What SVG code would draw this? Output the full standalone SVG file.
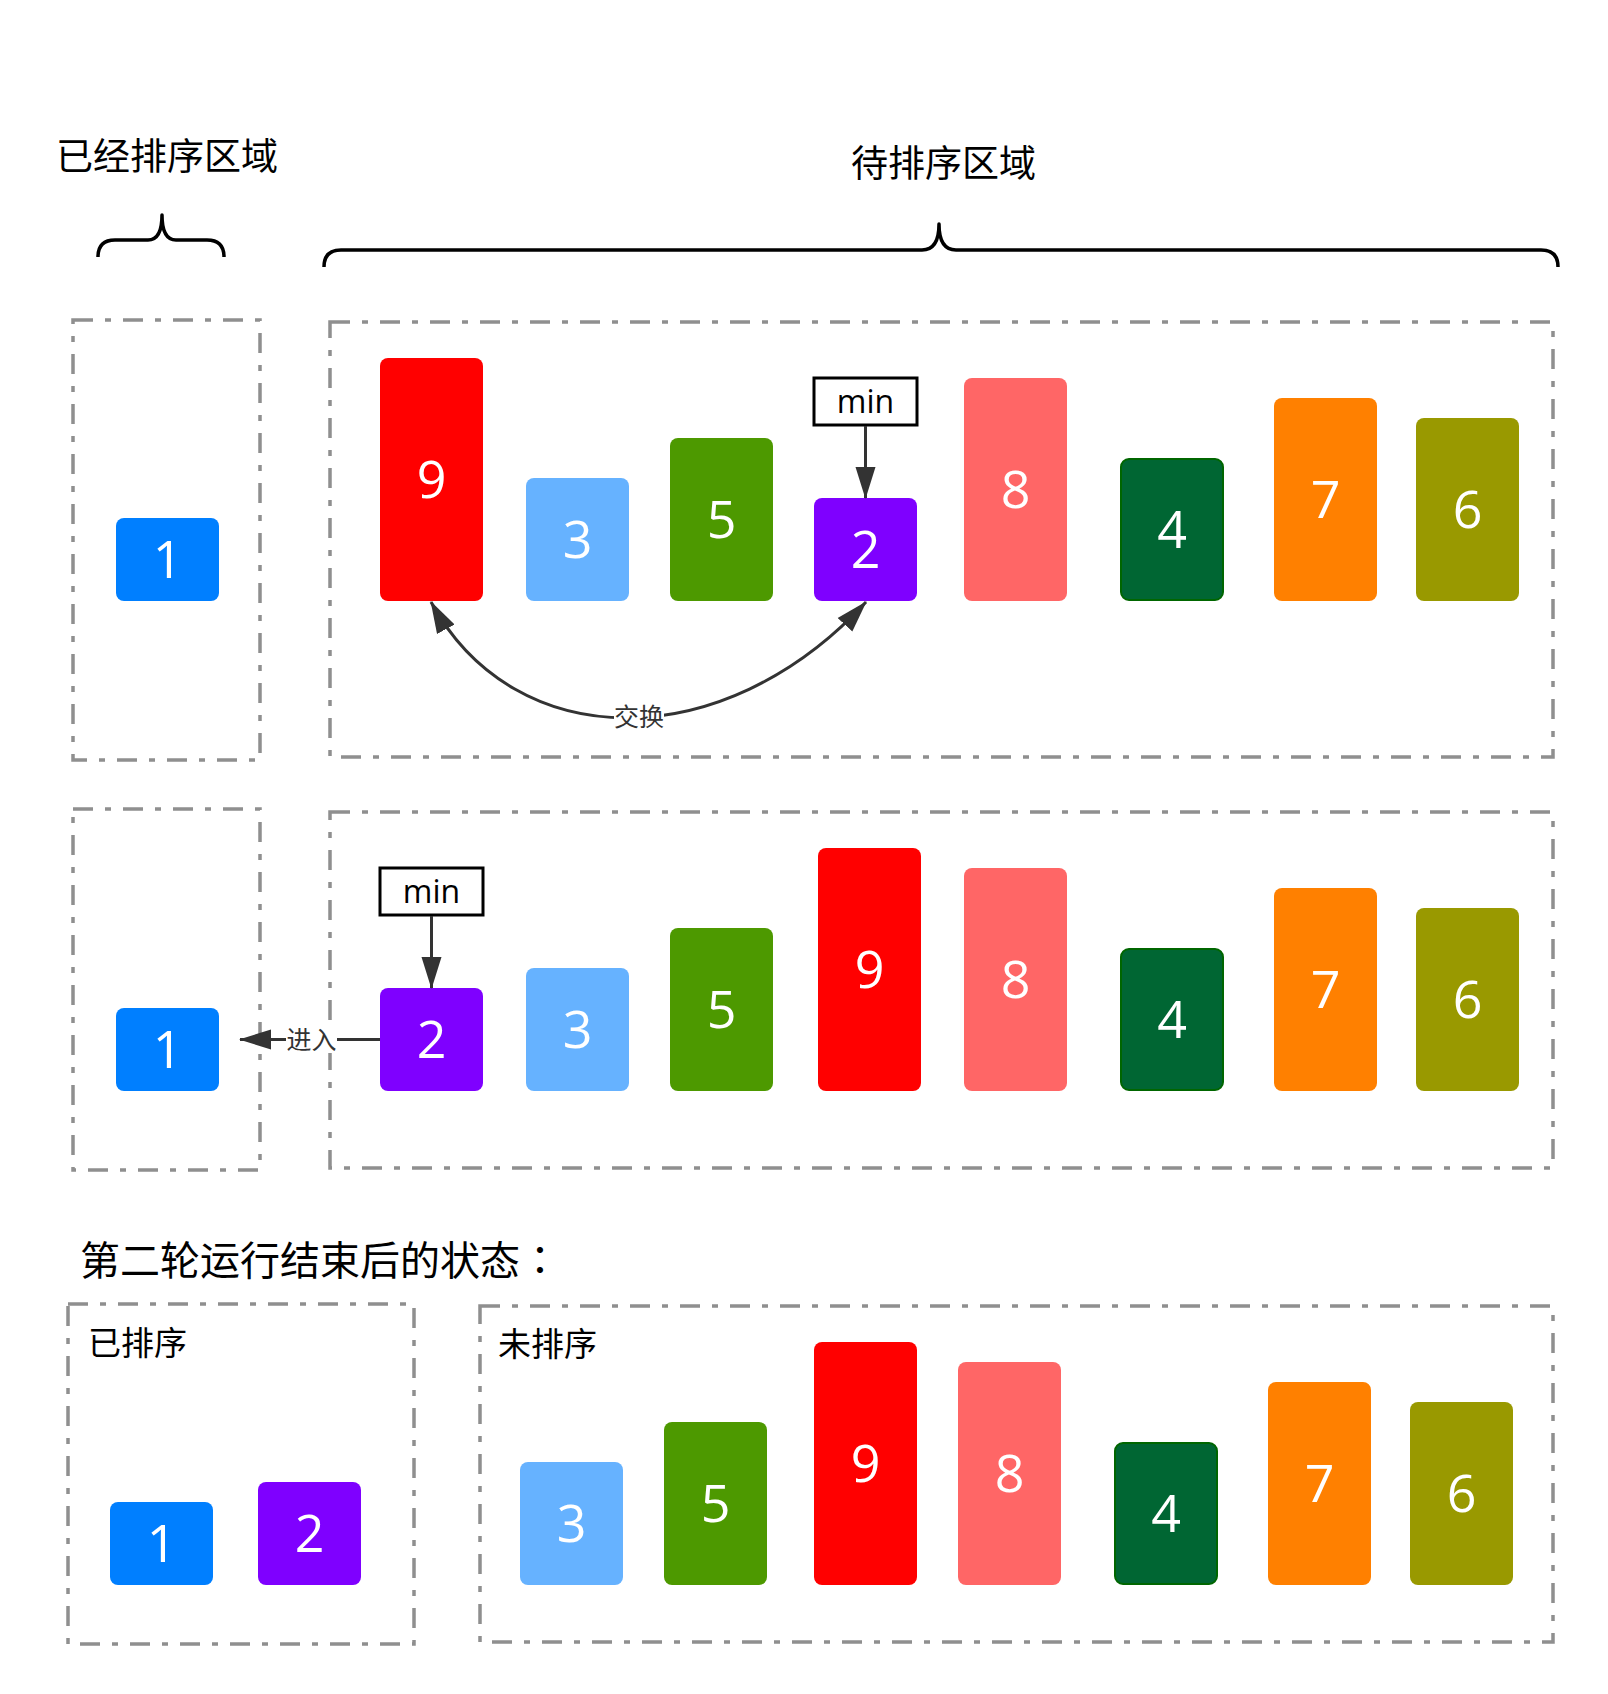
<svg xmlns="http://www.w3.org/2000/svg" width="1608" height="1694" viewBox="0 0 1608 1694">
<style>
.zone{fill:none;stroke:#8f8f8f;stroke-width:3.5;stroke-dasharray:20 12 6 12}
.brace{fill:none;stroke:#000;stroke-width:3.5;stroke-linejoin:round}
.num{font-family:"Open Sans","Noto Sans",sans-serif;font-size:52px;fill:#fff;text-anchor:middle}
.title{font-family:"Noto Sans CJK SC","Noto Sans CJK JP",sans-serif;fill:#000}
.lbl{font-family:"Noto Sans CJK SC","Noto Sans CJK JP",sans-serif;font-size:25px;fill:#333;text-anchor:middle}
.min rect{fill:#fff;stroke:#000;stroke-width:3}
.min text{font-family:"Open Sans","Noto Sans",sans-serif;font-size:32px;fill:#000;text-anchor:middle}
.edge{fill:none;stroke:#333;stroke-width:3}
.c1{fill:#007FFF}.c2{fill:#7F00FF}.c3{fill:#66B2FF}.c4{fill:#006633;stroke:#006600;stroke-width:2}
.c5{fill:#4D9900}.c6{fill:#999900}.c7{fill:#FF8000}.c8{fill:#FF6666}.c9{fill:#FF0000}
</style>
<defs>
<marker id="arr" markerUnits="userSpaceOnUse" viewBox="0 0 32 22" markerWidth="32" markerHeight="22" refX="31" refY="11" orient="auto-start-reverse">
<path d="M0,1 L32,11 L0,21 Z" fill="#333"/>
</marker>
</defs>
<rect width="1608" height="1694" fill="#fff"/>

<!-- titles -->
<text class="title" x="56" y="170" font-size="37">已经排序区域</text>
<text class="title" x="851" y="177" font-size="37">待排序区域</text>
<path class="brace" d="M98 257 Q98 240 115 240 L148 240 Q162 240 162 215 Q162 240 176 240 L207 240 Q224 240 224 257"/>
<path class="brace" d="M324 267 Q324 250 341 250 L922 250 Q939 250 939 224 Q939 250 956 250 L1541 250 Q1558 250 1558 267"/>

<!-- zones -->
<g id="zones">
<rect class="zone" x="73" y="320" width="187" height="440"/>
<rect class="zone" x="330" y="322" width="1223" height="435"/>
<rect class="zone" x="73" y="809" width="187" height="361"/>
<rect class="zone" x="330" y="812" width="1223" height="356"/>
<rect class="zone" x="68" y="1304" width="346" height="340"/>
<rect class="zone" x="480" y="1306" width="1073" height="336"/>
</g>

<!-- row 1 -->
<g id="r1-n1"><rect class="c1" x="116" y="518" width="103" height="83" rx="8"/><text class="num" x="167.5" y="578">1</text></g>
<g id="r1-n9"><rect class="c9" x="380" y="358" width="103" height="243" rx="8"/><text class="num" x="431.5" y="498">9</text></g>
<g id="r1-n3"><rect class="c3" x="526" y="478" width="103" height="123" rx="8"/><text class="num" x="577.5" y="558">3</text></g>
<g id="r1-n5"><rect class="c5" x="670" y="438" width="103" height="163" rx="8"/><text class="num" x="721.5" y="538">5</text></g>
<g id="r1-n2"><rect class="c2" x="814" y="498" width="103" height="103" rx="8"/><text class="num" x="865.5" y="568">2</text></g>
<g id="r1-n8"><rect class="c8" x="964" y="378" width="103" height="223" rx="8"/><text class="num" x="1015.5" y="508">8</text></g>
<g id="r1-n4"><rect class="c4" x="1121" y="459" width="102" height="141" rx="8"/><text class="num" x="1172" y="548">4</text></g>
<g id="r1-n7"><rect class="c7" x="1274" y="398" width="103" height="203" rx="8"/><text class="num" x="1325.5" y="518">7</text></g>
<g id="r1-n6"><rect class="c6" x="1416" y="418" width="103" height="183" rx="8"/><text class="num" x="1467.5" y="528">6</text></g>
<g id="r1-min" class="min"><rect x="814" y="378" width="103" height="47"/><text x="865.5" y="413">min</text></g>

<!-- row 2 -->
<g id="r2-n1"><rect class="c1" x="116" y="1008" width="103" height="83" rx="8"/><text class="num" x="167.5" y="1068">1</text></g>
<g id="r2-n2"><rect class="c2" x="380" y="988" width="103" height="103" rx="8"/><text class="num" x="431.5" y="1058">2</text></g>
<g id="r2-n3"><rect class="c3" x="526" y="968" width="103" height="123" rx="8"/><text class="num" x="577.5" y="1048">3</text></g>
<g id="r2-n5"><rect class="c5" x="670" y="928" width="103" height="163" rx="8"/><text class="num" x="721.5" y="1028">5</text></g>
<g id="r2-n9"><rect class="c9" x="818" y="848" width="103" height="243" rx="8"/><text class="num" x="869.5" y="988">9</text></g>
<g id="r2-n8"><rect class="c8" x="964" y="868" width="103" height="223" rx="8"/><text class="num" x="1015.5" y="998">8</text></g>
<g id="r2-n4"><rect class="c4" x="1121" y="949" width="102" height="141" rx="8"/><text class="num" x="1172" y="1038">4</text></g>
<g id="r2-n7"><rect class="c7" x="1274" y="888" width="103" height="203" rx="8"/><text class="num" x="1325.5" y="1008">7</text></g>
<g id="r2-n6"><rect class="c6" x="1416" y="908" width="103" height="183" rx="8"/><text class="num" x="1467.5" y="1018">6</text></g>
<g id="r2-min" class="min"><rect x="380" y="868" width="103" height="47"/><text x="431.5" y="903">min</text></g>

<!-- bottom -->
<text class="title" x="80" y="1275" font-size="40">第二轮运行结束后的状态<tspan font-family="'Noto Sans CJK TC','Noto Sans CJK JP',sans-serif">：</tspan></text>
<text class="title" x="88" y="1355" font-size="33">已排序</text>
<text class="title" x="498" y="1356" font-size="33">未排序</text>
<g id="b-n1"><rect class="c1" x="110" y="1502" width="103" height="83" rx="8"/><text class="num" x="161.5" y="1562">1</text></g>
<g id="b-n2"><rect class="c2" x="258" y="1482" width="103" height="103" rx="8"/><text class="num" x="309.5" y="1552">2</text></g>
<g id="b-n3"><rect class="c3" x="520" y="1462" width="103" height="123" rx="8"/><text class="num" x="571.5" y="1542">3</text></g>
<g id="b-n5"><rect class="c5" x="664" y="1422" width="103" height="163" rx="8"/><text class="num" x="715.5" y="1522">5</text></g>
<g id="b-n9"><rect class="c9" x="814" y="1342" width="103" height="243" rx="8"/><text class="num" x="865.5" y="1482">9</text></g>
<g id="b-n8"><rect class="c8" x="958" y="1362" width="103" height="223" rx="8"/><text class="num" x="1009.5" y="1492">8</text></g>
<g id="b-n4"><rect class="c4" x="1115" y="1443" width="102" height="141" rx="8"/><text class="num" x="1166" y="1532">4</text></g>
<g id="b-n7"><rect class="c7" x="1268" y="1382" width="103" height="203" rx="8"/><text class="num" x="1319.5" y="1502">7</text></g>
<g id="b-n6"><rect class="c6" x="1410" y="1402" width="103" height="183" rx="8"/><text class="num" x="1461.5" y="1512">6</text></g>

<!-- connectors -->
<g id="connectors">
<line class="edge" x1="865.5" y1="426" x2="865.5" y2="498" marker-end="url(#arr)"/>
<line class="edge" x1="431.5" y1="916" x2="431.5" y2="988" marker-end="url(#arr)"/>
<path class="edge" d="M431 602 C515 756 723 757 866 602" marker-start="url(#arr)" marker-end="url(#arr)"/>
<rect x="614" y="704" width="50" height="27" fill="#fff"/>
<text class="lbl" x="639" y="726">交换</text>
<line class="edge" x1="380" y1="1039.5" x2="240" y2="1039.5" marker-end="url(#arr)"/>
<rect x="286" y="1026" width="51" height="27" fill="#fff"/>
<text class="lbl" x="311.5" y="1049">进入</text>
</g>
</svg>
